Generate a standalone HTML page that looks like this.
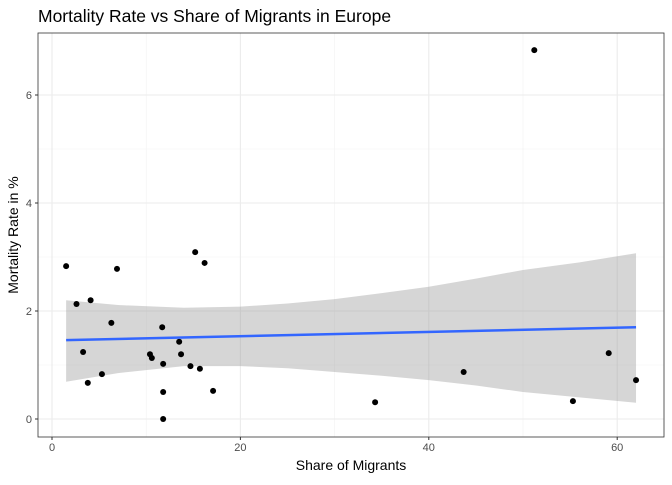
<!DOCTYPE html>
<html><head><meta charset="utf-8"><style>
body{margin:0;background:#fff;font-family:"Liberation Sans",sans-serif}
svg text{font-family:"Liberation Sans",sans-serif}
</style></head><body>
<svg id="chart" width="672" height="480" xmlns="http://www.w3.org/2000/svg">
<text x="38" y="22" font-size="17.5" fill="#000">Mortality Rate vs Share of Migrants in Europe</text>
<g id="grid"></g><g id="band"></g><g id="points"></g><g id="axes"></g>
<text x="351" y="470" font-size="14" text-anchor="middle">Share of Migrants</text>
<text transform="translate(18,235) rotate(-90)" font-size="14" text-anchor="middle">Mortality Rate in %</text>
</svg>
<script>
const xs=[1.5,2.6,4.1,3.3,3.8,5.3,6.3,6.9,10.4,10.6,11.7,11.8,11.8,11.8,13.5,13.7,14.7,15.2,15.7,16.2,17.1,34.3,43.7,51.2,55.3,59.1,62.0];
const ys=[2.83,2.13,2.20,1.24,0.67,0.83,1.78,2.78,1.20,1.13,1.70,1.02,0.50,0.0,1.43,1.20,0.98,3.09,0.93,2.89,0.52,0.31,0.87,6.83,0.33,1.22,0.72];
const bandX=[1.5,7,14,20,25,30,35,40,45,50,56,62];
const bandUpper=[2.2,2.11,2.06,2.08,2.14,2.22,2.33,2.45,2.6,2.76,2.9,3.07];
const bandLower=[0.69,0.85,0.98,0.98,0.94,0.87,0.8,0.72,0.62,0.5,0.4,0.30];
const fitX=[1.5,62];
const fitY=[1.46,1.70];
const xTicks=[0,20,40,60];
const yTicks=[0,2,4,6];
const xMinor=[10,30,50];
const yMinor=[1,3,5];
const L=38,R=664,T=33,B=437;
const sx=v=>52+v*9.42, sy=v=>419-v*54;
const NS="http://www.w3.org/2000/svg";
function mk(p,t,a){const e=document.createElementNS(NS,t);for(const k in a)e.setAttribute(k,a[k]);p.appendChild(e);return e;}
const grid=document.getElementById('grid'),band=document.getElementById('band'),pts=document.getElementById('points'),axes=document.getElementById('axes');
let bg=mk(grid,'rect',{x:L,y:T,width:R-L,height:B-T,fill:'#fff'});


xMinor.forEach(v=>{const l=mk(grid,'line',{x1:sx(v),x2:sx(v),y1:T,y2:B,stroke:'#f2f2f2','stroke-width':0.6});});
yMinor.forEach(v=>{const l=mk(grid,'line',{x1:L,x2:R,y1:sy(v),y2:sy(v),stroke:'#f2f2f2','stroke-width':0.6});});
xTicks.forEach(v=>{const l=mk(grid,'line',{x1:sx(v),x2:sx(v),y1:T,y2:B,stroke:'#ebebeb','stroke-width':1.1});
 const tk=mk(axes,'line',{x1:sx(v),x2:sx(v),y1:B,y2:B+3,stroke:'#333'});
 const t=mk(axes,'text',{x:sx(v),y:B+14,'font-size':11,'text-anchor':'middle',fill:'#4d4d4d'});t.textContent=v;});
yTicks.forEach(v=>{const l=mk(grid,'line',{x1:L,x2:R,y1:sy(v),y2:sy(v),stroke:'#ebebeb','stroke-width':1.1});
 const tk=mk(axes,'line',{x1:L-3,x2:L,y1:sy(v),y2:sy(v),stroke:'#333'});
 const t=mk(axes,'text',{x:L-6,y:sy(v)+4,'font-size':11,'text-anchor':'end',fill:'#4d4d4d'});t.textContent=v;});
let d=bandX.map((x,i)=>(i?'L':'M')+sx(x)+','+sy(bandUpper[i])).join('');
for(let i=bandX.length-1;i>=0;i--)d+='L'+sx(bandX[i])+','+sy(bandLower[i]);
const bp=mk(band,'path',{d:d+'Z',fill:'#999','fill-opacity':0.4});


xs.forEach((x,i)=>{const c=mk(pts,'circle',{cx:sx(x),cy:sy(ys[i]),r:3,fill:'#000'});});
const fl=mk(pts,'line',{x1:sx(fitX[0]),y1:sy(fitY[0]),x2:sx(fitX[1]),y2:sy(fitY[1]),stroke:'#3366FF','stroke-width':2.5});


const bd=mk(axes,'rect',{x:L,y:T,width:R-L,height:B-T,fill:'none',stroke:'#333','stroke-width':0.8});


</script>
</body></html>
